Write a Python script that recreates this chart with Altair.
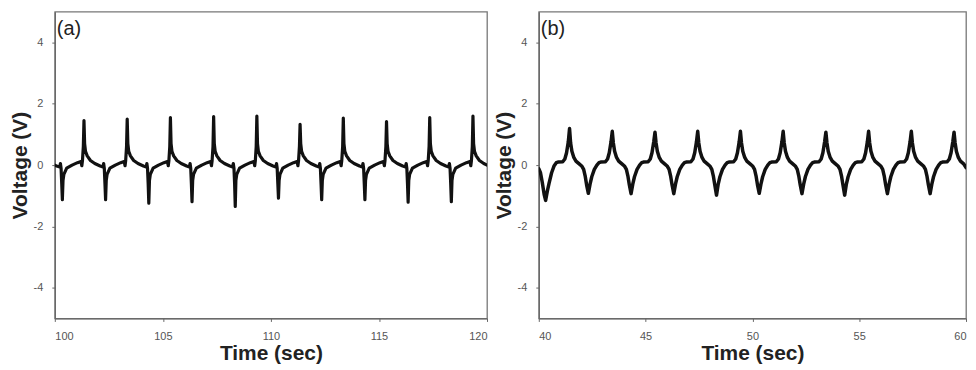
import altair as alt
import pandas as pd

# ---------------- Panel (a): 100-120 s ----------------
time_a = [
    100.00, 100.12, 100.23, 100.26, 100.29, 100.32,
    100.35, 100.38, 100.42, 100.55, 100.80, 101.05, 101.21, 101.25, 101.28, 101.32,
    101.35, 101.38, 101.42, 101.50, 101.65, 101.85, 102.10, 102.23, 102.26, 102.29, 102.32,
    102.35, 102.38, 102.42, 102.55, 102.80, 103.05, 103.21, 103.25, 103.28, 103.32,
    103.35, 103.38, 103.42, 103.50, 103.65, 103.85, 104.10, 104.23, 104.26, 104.29, 104.32,
    104.35, 104.38, 104.42, 104.55, 104.80, 105.05, 105.21, 105.25, 105.28, 105.32,
    105.35, 105.38, 105.42, 105.50, 105.65, 105.85, 106.10, 106.23, 106.26, 106.29, 106.32,
    106.35, 106.38, 106.42, 106.55, 106.80, 107.05, 107.21, 107.25, 107.28, 107.32,
    107.35, 107.38, 107.42, 107.50, 107.65, 107.85, 108.10, 108.23, 108.26, 108.29, 108.32,
    108.35, 108.38, 108.42, 108.55, 108.80, 109.05, 109.21, 109.25, 109.28, 109.32,
    109.35, 109.38, 109.42, 109.50, 109.65, 109.85, 110.10, 110.23, 110.26, 110.29, 110.32,
    110.35, 110.38, 110.42, 110.55, 110.80, 111.05, 111.21, 111.25, 111.28, 111.32,
    111.35, 111.38, 111.42, 111.50, 111.65, 111.85, 112.10, 112.23, 112.26, 112.29, 112.32,
    112.35, 112.38, 112.42, 112.55, 112.80, 113.05, 113.21, 113.25, 113.28, 113.32,
    113.35, 113.38, 113.42, 113.50, 113.65, 113.85, 114.10, 114.23, 114.26, 114.29, 114.32,
    114.35, 114.38, 114.42, 114.55, 114.80, 115.05, 115.21, 115.25, 115.28, 115.32,
    115.35, 115.38, 115.42, 115.50, 115.65, 115.85, 116.10, 116.23, 116.26, 116.29, 116.32,
    116.35, 116.38, 116.42, 116.55, 116.80, 117.05, 117.21, 117.25, 117.28, 117.32,
    117.35, 117.38, 117.42, 117.50, 117.65, 117.85, 118.10, 118.23, 118.26, 118.29, 118.32,
    118.35, 118.38, 118.42, 118.55, 118.80, 119.05, 119.21, 119.25, 119.28, 119.32,
    119.35, 119.38, 119.42, 119.50, 119.65, 119.85, 120.00,
]
volt_a = [
    0.00, -0.04, -0.06, 0.05, -0.10, -0.60,
    -1.13, -0.50, -0.30, -0.10, 0.00, 0.08, 0.12, -0.02, 0.15, 0.60,
    1.45, 0.70, 0.45, 0.30, 0.15, 0.05, -0.03, -0.06, 0.05, -0.10, -0.60,
    -1.13, -0.50, -0.30, -0.10, 0.00, 0.08, 0.12, -0.02, 0.15, 0.60,
    1.50, 0.70, 0.45, 0.30, 0.15, 0.05, -0.03, -0.06, 0.05, -0.10, -0.60,
    -1.24, -0.50, -0.30, -0.10, 0.00, 0.08, 0.12, -0.02, 0.15, 0.60,
    1.55, 0.70, 0.45, 0.30, 0.15, 0.05, -0.03, -0.06, 0.05, -0.10, -0.60,
    -1.19, -0.50, -0.30, -0.10, 0.00, 0.08, 0.12, -0.02, 0.15, 0.60,
    1.58, 0.70, 0.45, 0.30, 0.15, 0.05, -0.03, -0.06, 0.05, -0.10, -0.60,
    -1.35, -0.50, -0.30, -0.10, 0.00, 0.08, 0.12, -0.02, 0.15, 0.60,
    1.60, 0.70, 0.45, 0.30, 0.15, 0.05, -0.03, -0.06, 0.05, -0.10, -0.60,
    -1.08, -0.50, -0.30, -0.10, 0.00, 0.08, 0.12, -0.02, 0.15, 0.60,
    1.33, 0.70, 0.45, 0.30, 0.15, 0.05, -0.03, -0.06, 0.05, -0.10, -0.60,
    -1.13, -0.50, -0.30, -0.10, 0.00, 0.08, 0.12, -0.02, 0.15, 0.60,
    1.53, 0.70, 0.45, 0.30, 0.15, 0.05, -0.03, -0.06, 0.05, -0.10, -0.60,
    -1.13, -0.50, -0.30, -0.10, 0.00, 0.08, 0.12, -0.02, 0.15, 0.60,
    1.42, 0.70, 0.45, 0.30, 0.15, 0.05, -0.03, -0.06, 0.05, -0.10, -0.60,
    -1.21, -0.50, -0.30, -0.10, 0.00, 0.08, 0.12, -0.02, 0.15, 0.60,
    1.55, 0.70, 0.45, 0.30, 0.15, 0.05, -0.03, -0.06, 0.05, -0.10, -0.60,
    -1.19, -0.50, -0.30, -0.10, 0.00, 0.08, 0.12, -0.02, 0.15, 0.60,
    1.60, 0.70, 0.45, 0.30, 0.15, 0.05, 0.00,
]

# ---------------- Panel (b): 40-60 s ----------------
time_b = [
    40.00, 40.08, 40.16, 40.25,
    40.32, 40.40, 40.48, 40.60, 40.72, 40.82, 40.90, 41.12, 41.22, 41.30, 41.38,
    41.44, 41.49, 41.55, 41.64, 41.74, 41.89, 42.02, 42.10, 42.17, 42.24,
    42.32, 42.40, 42.48, 42.60, 42.72, 42.82, 42.90, 43.12, 43.22, 43.30, 43.38,
    43.44, 43.49, 43.55, 43.64, 43.74, 43.89, 44.02, 44.10, 44.17, 44.24,
    44.32, 44.40, 44.48, 44.60, 44.72, 44.82, 44.90, 45.12, 45.22, 45.30, 45.38,
    45.44, 45.49, 45.55, 45.64, 45.74, 45.89, 46.02, 46.10, 46.17, 46.24,
    46.32, 46.40, 46.48, 46.60, 46.72, 46.82, 46.90, 47.12, 47.22, 47.30, 47.38,
    47.44, 47.49, 47.55, 47.64, 47.74, 47.89, 48.02, 48.10, 48.17, 48.24,
    48.32, 48.40, 48.48, 48.60, 48.72, 48.82, 48.90, 49.12, 49.22, 49.30, 49.38,
    49.44, 49.49, 49.55, 49.64, 49.74, 49.89, 50.02, 50.10, 50.17, 50.24,
    50.32, 50.40, 50.48, 50.60, 50.72, 50.82, 50.90, 51.12, 51.22, 51.30, 51.38,
    51.44, 51.49, 51.55, 51.64, 51.74, 51.89, 52.02, 52.10, 52.17, 52.24,
    52.32, 52.40, 52.48, 52.60, 52.72, 52.82, 52.90, 53.12, 53.22, 53.30, 53.38,
    53.44, 53.49, 53.55, 53.64, 53.74, 53.89, 54.02, 54.10, 54.17, 54.24,
    54.32, 54.40, 54.48, 54.60, 54.72, 54.82, 54.90, 55.12, 55.22, 55.30, 55.38,
    55.44, 55.49, 55.55, 55.64, 55.74, 55.89, 56.02, 56.10, 56.17, 56.24,
    56.32, 56.40, 56.48, 56.60, 56.72, 56.82, 56.90, 57.12, 57.22, 57.30, 57.38,
    57.44, 57.49, 57.55, 57.64, 57.74, 57.89, 58.02, 58.10, 58.17, 58.24,
    58.32, 58.40, 58.48, 58.60, 58.72, 58.82, 58.90, 59.12, 59.22, 59.30, 59.38,
    59.44, 59.49, 59.55, 59.64, 59.74, 59.89, 60.00,
]
volt_b = [
    -0.12, -0.25, -0.55, -0.95,
    -1.15, -0.85, -0.60, -0.25, -0.02, 0.08, 0.10, 0.11, 0.20, 0.40, 0.75,
    1.19, 0.72, 0.45, 0.25, 0.13, 0.04, -0.04, -0.14, -0.35, -0.65,
    -0.92, -0.62, -0.38, -0.14, 0.00, 0.08, 0.10, 0.11, 0.20, 0.40, 0.75,
    1.10, 0.72, 0.45, 0.25, 0.13, 0.04, -0.04, -0.14, -0.35, -0.65,
    -0.93, -0.62, -0.38, -0.14, 0.00, 0.08, 0.10, 0.11, 0.20, 0.40, 0.75,
    1.07, 0.72, 0.45, 0.25, 0.13, 0.04, -0.04, -0.14, -0.35, -0.65,
    -0.93, -0.62, -0.38, -0.14, 0.00, 0.08, 0.10, 0.11, 0.20, 0.40, 0.75,
    1.10, 0.72, 0.45, 0.25, 0.13, 0.04, -0.04, -0.14, -0.35, -0.65,
    -0.98, -0.62, -0.38, -0.14, 0.00, 0.08, 0.10, 0.11, 0.20, 0.40, 0.75,
    1.10, 0.72, 0.45, 0.25, 0.13, 0.04, -0.04, -0.14, -0.35, -0.65,
    -0.92, -0.62, -0.38, -0.14, 0.00, 0.08, 0.10, 0.11, 0.20, 0.40, 0.75,
    1.10, 0.72, 0.45, 0.25, 0.13, 0.04, -0.04, -0.14, -0.35, -0.65,
    -0.93, -0.62, -0.38, -0.14, 0.00, 0.08, 0.10, 0.11, 0.20, 0.40, 0.75,
    1.07, 0.72, 0.45, 0.25, 0.13, 0.04, -0.04, -0.14, -0.35, -0.65,
    -0.98, -0.62, -0.38, -0.14, 0.00, 0.08, 0.10, 0.11, 0.20, 0.40, 0.75,
    1.10, 0.72, 0.45, 0.25, 0.13, 0.04, -0.04, -0.14, -0.35, -0.65,
    -0.93, -0.62, -0.38, -0.14, 0.00, 0.08, 0.10, 0.11, 0.20, 0.40, 0.75,
    1.10, 0.72, 0.45, 0.25, 0.13, 0.04, -0.04, -0.14, -0.35, -0.65,
    -0.93, -0.62, -0.38, -0.14, 0.00, 0.08, 0.10, 0.11, 0.20, 0.40, 0.75,
    1.07, 0.72, 0.45, 0.25, 0.13, 0.04, -0.08,
]

x_ticks_a = [100, 105, 110, 115, 120]
x_ticks_b = [40, 45, 50, 55, 60]
y_ticks = [-4, -2, 0, 2, 4]
panel_labels = ["(a)", "(b)"]

assert len(time_a) == len(volt_a), (len(time_a), len(volt_a))
assert len(time_b) == len(volt_b), (len(time_b), len(volt_b))

FONT = "Liberation Sans"


def panel(times, volts, xdom, xticks, width, label, sw):
    df = pd.DataFrame({"t": times, "v": volts, "i": range(len(times))})
    line = alt.Chart(df).mark_line(
        color="#111111", strokeWidth=sw, strokeJoin="round", strokeCap="round", clip=True
    ).encode(
        x=alt.X("t:Q", scale=alt.Scale(domain=xdom, nice=False, zero=False),
                axis=alt.Axis(values=xticks, title="Time (sec)", labelPadding=9,
                              titlePadding=1, labelExpr="'' + datum.value")),
        y=alt.Y("v:Q", scale=alt.Scale(domain=[-5, 5], nice=False),
                axis=alt.Axis(values=y_ticks, title="Voltage (V)", labelPadding=9,
                              titlePadding=3, labelExpr="'' + datum.value")),
        order="i:Q",
    )
    lab = alt.Chart(pd.DataFrame({"lab": [label]})).mark_text(
        align="left", baseline="middle", fontSize=20, font=FONT, color="#222222"
    ).encode(x=alt.value(2), y=alt.value(17), text="lab:N")
    return alt.layer(line, lab).properties(width=width, height=308)


pa = panel(time_a, volt_a, [100, 120], x_ticks_a, 434, panel_labels[0], 3.2)
pb = panel(time_b, volt_b, [40, 60], x_ticks_b, 429, panel_labels[1], 3.5)

chart = alt.hconcat(pa, pb, spacing=52, bounds="flush").properties(
    padding={"left": 0, "top": 2, "right": 0, "bottom": 0}
).configure_view(
    stroke="#777777", strokeWidth=1.3
).configure_axis(
    grid=False,
    domainColor="#666666",
    domainWidth=1.3,
    tickColor="#666666",
    tickSize=3,
    labelFont=FONT,
    labelFontSize=11,
    labelColor="#555555",
    titleFont=FONT,
    titleFontSize=21,
    titleFontWeight="bold",
    titleColor="#222222",
)

chart.save("out.html", embed_options={"renderer": "svg", "actions": False})
